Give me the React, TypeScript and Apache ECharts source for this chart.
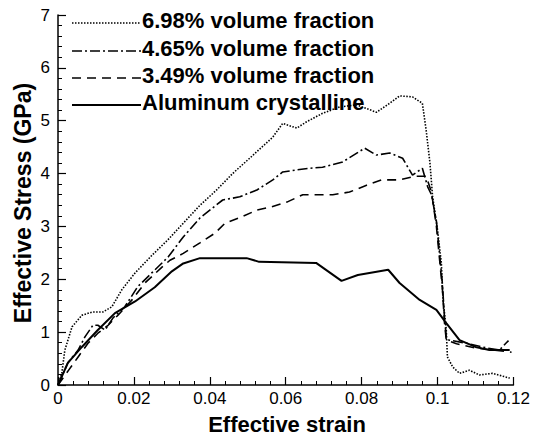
import React, { useEffect, useRef } from "react";
import * as echarts from "echarts";

const xTicks = [0, 0.02, 0.04, 0.06, 0.08, 0.1, 0.12];
const yTicks = [0, 1, 2, 3, 4, 5, 6, 7];

const seriesNames = [
  "6.98% volume fraction",
  "4.65% volume fraction",
  "3.49% volume fraction",
  "Aluminum crystalline",
];

const vf698: [number, number][] = [
  [0, 0], [0.001, 0.22], [0.0018, 0.66], [0.0037, 1.1], [0.0063, 1.32], [0.009, 1.38],
  [0.0118, 1.38], [0.0142, 1.48], [0.0168, 1.8], [0.0203, 2.12], [0.0247, 2.45],
  [0.029, 2.75], [0.033, 3.06], [0.0374, 3.4], [0.0418, 3.69], [0.046, 4.0],
  [0.0505, 4.29], [0.0566, 4.69], [0.0592, 4.95], [0.0629, 4.86], [0.0655, 4.98],
  [0.0697, 5.14], [0.0742, 5.26], [0.0787, 5.3], [0.0839, 5.16], [0.0874, 5.33],
  [0.09, 5.47], [0.0934, 5.45], [0.096, 5.33], [0.097, 4.82], [0.098, 4.2],
  [0.0987, 3.56], [0.1, 2.93], [0.101, 2.31], [0.1014, 1.66], [0.1023, 1.04],
  [0.1026, 0.53], [0.104, 0.34], [0.1058, 0.22], [0.1084, 0.28], [0.111, 0.19],
  [0.1145, 0.22], [0.119, 0.13],
];

const vf465: [number, number][] = [
  [0, 0], [0.0026, 0.42], [0.0053, 0.66], [0.0071, 0.91], [0.0092, 1.13], [0.0105, 1.13],
  [0.0124, 1.04], [0.0145, 1.27], [0.0176, 1.48], [0.021, 1.86], [0.0247, 2.12],
  [0.029, 2.42], [0.033, 2.8], [0.0374, 3.16], [0.0434, 3.5], [0.0479, 3.56],
  [0.0524, 3.69], [0.0566, 3.88], [0.0592, 4.03], [0.0629, 4.07], [0.0663, 4.1],
  [0.0697, 4.12], [0.075, 4.22], [0.0808, 4.48], [0.0839, 4.35], [0.0874, 4.39],
  [0.0908, 4.29], [0.0934, 3.97], [0.096, 4.1], [0.0974, 3.75], [0.0984, 3.6],
  [0.0997, 3.1], [0.1005, 2.5], [0.1013, 1.9], [0.1018, 1.3], [0.1023, 0.9],
  [0.103, 0.85], [0.1076, 0.79], [0.113, 0.7], [0.1163, 0.66], [0.118, 0.79],
  [0.1187, 0.84],
];

const vf349: [number, number][] = [
  [0, 0], [0.003, 0.3], [0.0053, 0.53], [0.0079, 0.79], [0.0105, 0.98], [0.0132, 1.13],
  [0.0158, 1.32], [0.0195, 1.61], [0.0229, 1.93], [0.0274, 2.23], [0.0295, 2.36],
  [0.033, 2.49], [0.0374, 2.69], [0.0413, 2.87], [0.044, 3.06], [0.0484, 3.18],
  [0.0524, 3.31], [0.0563, 3.37], [0.0603, 3.46], [0.0645, 3.6], [0.069, 3.6],
  [0.0724, 3.6], [0.0768, 3.65], [0.0813, 3.78], [0.0853, 3.88], [0.09, 3.88],
  [0.094, 3.95], [0.097, 3.95], [0.0984, 3.65], [0.0997, 3.0], [0.1005, 2.4],
  [0.1013, 1.8], [0.1018, 1.2], [0.1023, 0.85], [0.105, 0.78], [0.11, 0.7],
  [0.115, 0.66], [0.1195, 0.62],
];

const aluminum: [number, number][] = [
  [0, 0], [0.0026, 0.42], [0.0063, 0.72], [0.0105, 1.04], [0.015, 1.36], [0.0203, 1.58],
  [0.0255, 1.85], [0.03, 2.15], [0.033, 2.3], [0.0374, 2.4], [0.0497, 2.4],
  [0.053, 2.33], [0.068, 2.31], [0.0747, 1.97], [0.079, 2.08], [0.087, 2.18],
  [0.09, 1.93], [0.0953, 1.61], [0.0997, 1.42], [0.1023, 1.17], [0.1058, 0.85],
  [0.11, 0.72], [0.1137, 0.66], [0.119, 0.66],
];

const seriesData = [vf698, vf465, vf349, aluminum];
const dashes: (number[] | "solid")[] = [[1.5, 1.5], [10, 3, 2, 3], [9, 6], "solid"];
const widths = [1.6, 1.6, 1.6, 2];

export default function App() {
  const ref = useRef<HTMLDivElement>(null);
  useEffect(() => {
    if (!ref.current) return;
    const chart = echarts.init(ref.current, null, { renderer: "svg" });
    const font = "'Liberation Sans', Arial, Helvetica, sans-serif";
    const legendRows = [23, 51, 78, 105];
    const graphic: any[] = [];
    seriesNames.forEach((name, i) => {
      graphic.push({
        type: "line",
        shape: { x1: 72, y1: legendRows[i], x2: 141, y2: legendRows[i] },
        style: {
          stroke: "#000",
          lineWidth: widths[i],
          lineDash: dashes[i] === "solid" ? null : dashes[i],
        },
      });
      graphic.push({
        type: "text",
        x: 142,
        y: legendRows[i] - 3,
        style: {
          text: name,
          fill: "#000",
          fontFamily: font,
          fontWeight: "bold",
          fontSize: 22,
          align: "left",
          verticalAlign: "middle",
        },
      });
    });
    graphic.push({
      type: "text",
      x: 287,
      y: 424,
      style: {
        text: "Effective strain",
        fill: "#000",
        fontFamily: font,
        fontWeight: "bold",
        fontSize: 22,
        align: "center",
        verticalAlign: "middle",
      },
    });
    graphic.push({
      type: "text",
      x: 23,
      y: 203,
      rotation: Math.PI / 2,
      style: {
        text: "Effective Stress (GPa)",
        fill: "#000",
        fontFamily: font,
        fontWeight: "bold",
        fontSize: 23,
        align: "center",
        verticalAlign: "middle",
      },
    });

    chart.setOption({
      animation: false,
      backgroundColor: "#fff",
      grid: { left: 58, right: 19, top: 15, bottom: 51, containLabel: false },
      xAxis: {
        type: "value",
        min: xTicks[0],
        max: xTicks[xTicks.length - 1],
        interval: 0.02,
        axisLine: { show: true, lineStyle: { color: "#000", width: 1.5 } },
        axisTick: { show: true, inside: true, length: 8, lineStyle: { color: "#000", width: 1.2 } },
        minorTick: { show: true, splitNumber: 5, length: 4, lineStyle: { color: "#000", width: 1 } },
        splitLine: { show: false },
        axisLabel: {
          color: "#000",
          fontFamily: font,
          fontSize: 17,
          margin: 5,
          formatter: (v: number) => {
            const t = xTicks.find((x) => Math.abs(x - v) < 1e-9);
            return t === undefined ? "" : String(t);
          },
        },
      },
      yAxis: {
        type: "value",
        min: yTicks[0],
        max: yTicks[yTicks.length - 1],
        interval: 1,
        axisLine: { show: true, lineStyle: { color: "#000", width: 1.5 } },
        axisTick: { show: true, inside: true, length: 8, lineStyle: { color: "#000", width: 1.2 } },
        minorTick: { show: true, splitNumber: 5, length: 4, lineStyle: { color: "#000", width: 1 } },
        splitLine: { show: false },
        axisLabel: { color: "#000", fontFamily: font, fontSize: 17, margin: 8 },
      },
      graphic,
      series: seriesNames.map((name, i) => ({
        name,
        type: "line",
        data: seriesData[i],
        symbol: "none",
        smooth: false,
        lineStyle: { color: "#000", width: widths[i], type: dashes[i] },
        z: 10 - i,
      })),
    });
    return () => chart.dispose();
  }, []);
  return (
    <div
      ref={ref}
      style={{ position: "fixed", left: 0, top: 0, width: 533, height: 436, background: "#fff" }}
    />
  );
}
